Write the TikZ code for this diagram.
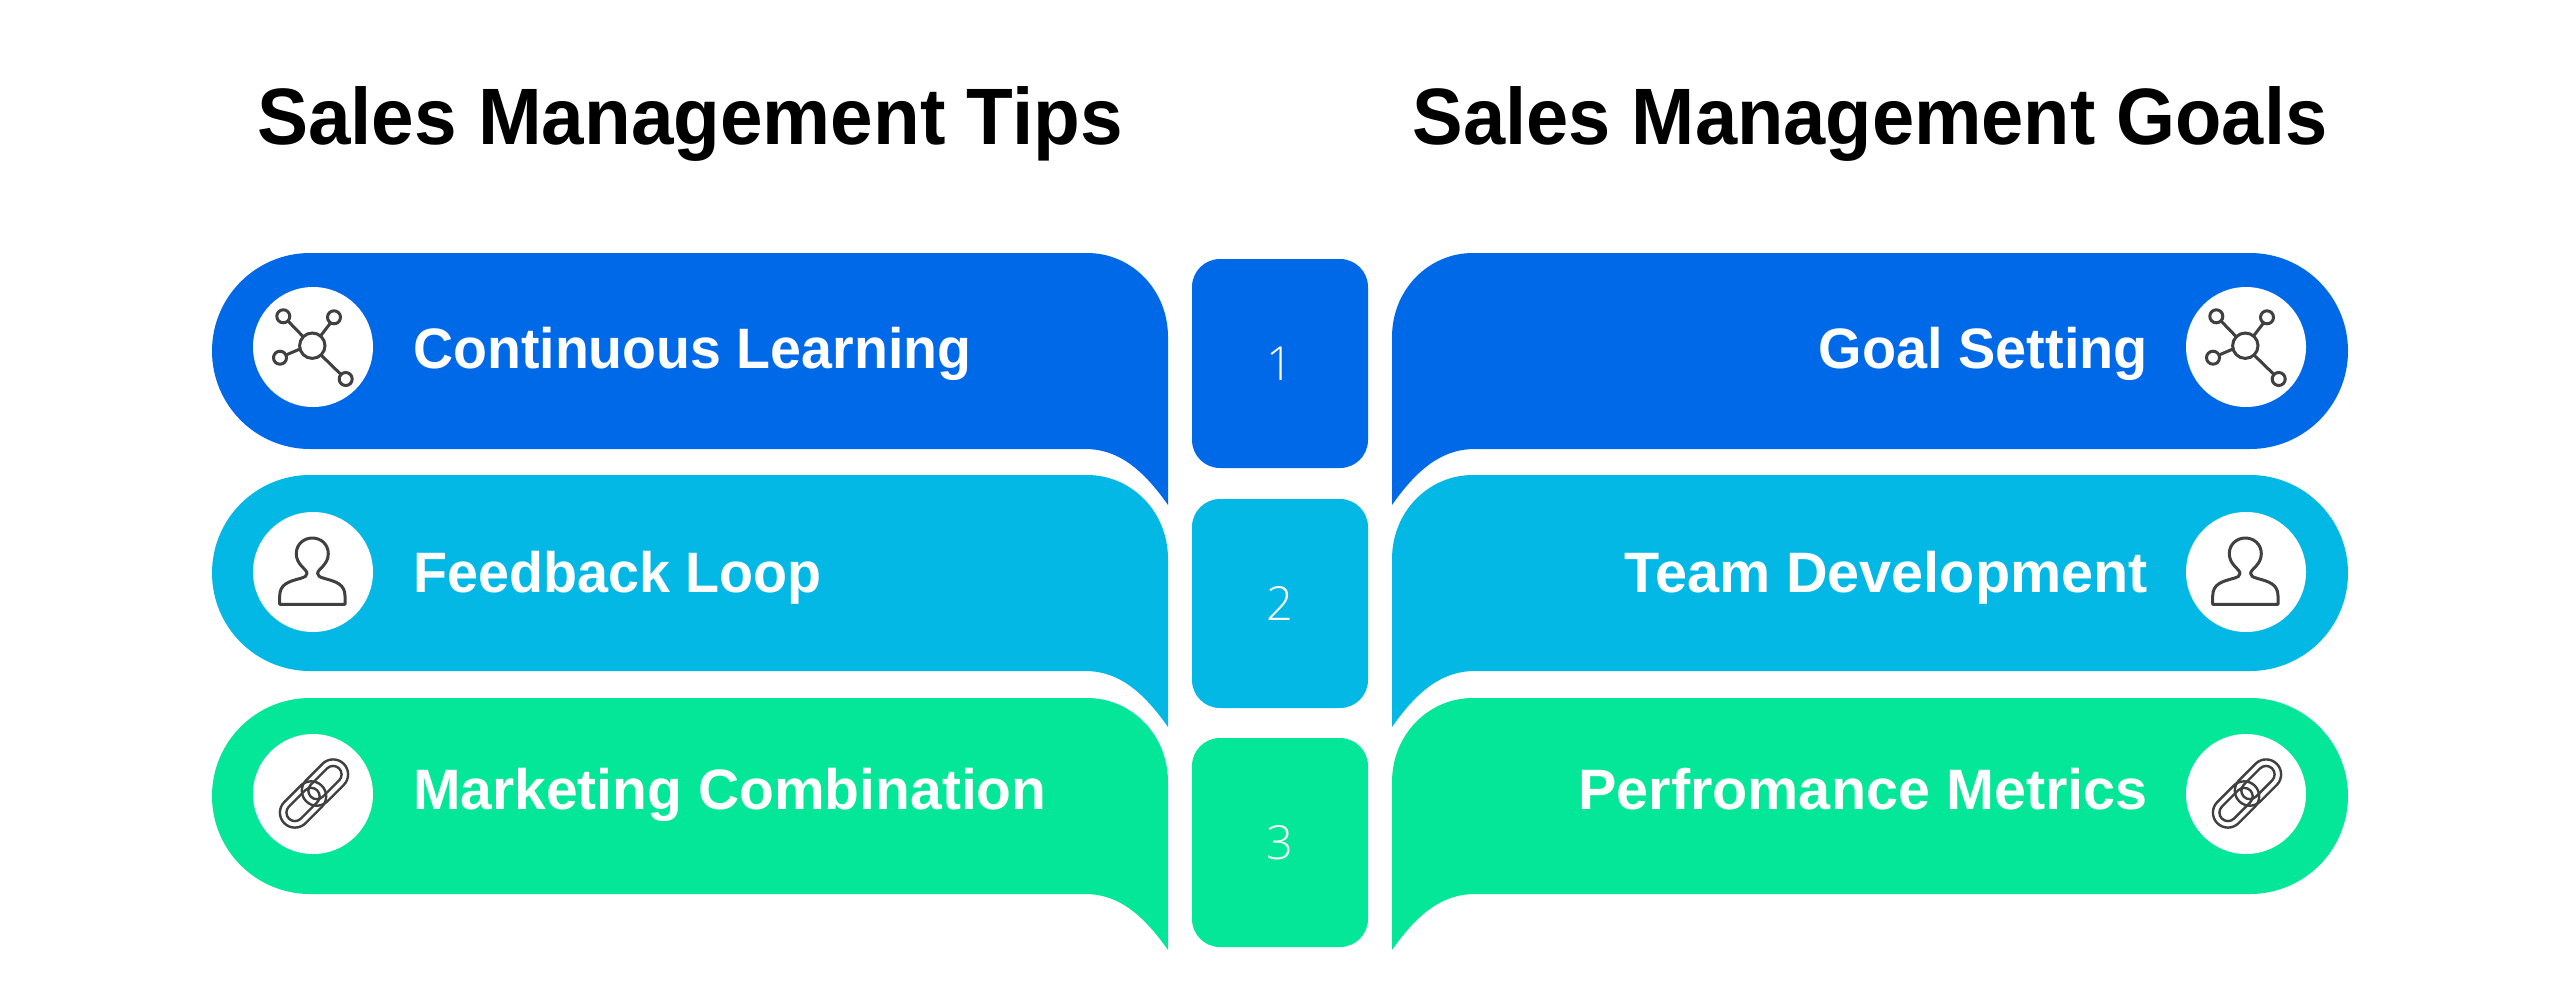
\documentclass[tikz,border=0pt]{standalone}
\usepackage{fontspec}
\setmainfont{Liberation Sans}
\newfontfamily\numfont{Open Sans Light}
\definecolor{cblue}{HTML}{0069E8}
\definecolor{ccyan}{HTML}{04B8E6}
\definecolor{cgreen}{HTML}{04E698}
\definecolor{icon}{HTML}{404040}
\tikzset{
  title/.style={anchor=base,font=\fontsize{80}{90}\selectfont\bfseries,text=black,inner sep=0pt},
  lab/.style={font=\fontsize{57}{60}\selectfont\bfseries,text=white,inner sep=0pt},
  numbox/.style={rounded corners=28pt,minimum width=176pt,minimum height=209pt,inner sep=0pt,text=white,font=\fontsize{47}{50}\selectfont\numfont},
  disc/.style={circle,fill=white,minimum size=120pt,inner sep=0pt},
  iconline/.style={draw=icon,line width=3pt,fill=none},
}
\newcommand{\bandshape}[2]{% colour, top
  \fill[#1] (1087,#2) .. controls (1132,#2) and (1168,#2+37) .. (1168,#2+84)
    -- (1168,#2+252) .. controls (1140,#2+212) and (1115,#2+196) .. (1085,#2+196)
    -- (310,#2+196) arc[start angle=90,end angle=270,radius=98pt,y radius=-98pt] -- cycle;
}
\newcommand{\iconnet}[1]{%
  \begin{scope}[shift={(#1)}]
  \draw[iconline] (-0.7,-1.3) circle[radius=12.7pt];
  \foreach \x/\y in {-29.7/-30.7,21/-29.7,-33/10.7,32.7/32}{
    \draw[iconline] (\x,\y) circle[radius=6.5pt];
  }
  \draw[iconline] (-25,-26) -- (-9.5,-10);
  \draw[iconline] (17.5,-24) -- (7.5,-11);
  \draw[iconline] (-27,8) -- (-13,2);
  \draw[iconline] (8.5,8.5) -- (28,27.5);
  \end{scope}}
\newcommand{\iconperson}[1]{%
  \begin{scope}[shift={(#1)}]
  \draw[iconline,line join=round] (-33.3,32.3) -- (-33.3,24)
    .. controls (-33.3,12) and (-24,9.5) .. (-13,6.5)
    .. controls (-8,5) and (-6,4) .. (-6,1.5)
    .. controls (-6,-3) and (-16.7,-7) .. (-16.7,-18.3)
    .. controls (-16.7,-28) and (-9,-34) .. (-0.7,-34)
    .. controls (7.6,-34) and (15.3,-28) .. (15.3,-18.3)
    .. controls (15.3,-7) and (4.6,-3) .. (4.6,1.5)
    .. controls (4.6,4) and (6.6,5) .. (11.6,6.5)
    .. controls (22.6,9.5) and (32,12) .. (32,24)
    -- (32,32.3) -- cycle;
  \end{scope}}
\newcommand{\iconchain}[1]{%
  \begin{scope}[shift={(#1)},xshift=1pt,yshift=0.5pt,rotate=45,yscale=-1]
  \foreach \a/\b in {-42/11,-11/42}{
    \draw[iconline,line width=2.4pt,rounded corners=15pt] (\a,-15) rectangle (\b,15);
    \draw[iconline,line width=2.4pt,rounded corners=8.5pt] (\a+6.5,-8.5) rectangle (\b-6.5,8.5);
  }
  \end{scope}}
\begin{document}
\begin{tikzpicture}[x=1pt,y=-1pt]
\useasboundingbox (0,0) rectangle (2560,994);
\fill[white] (0,0) rectangle (2560,994);
\node[title] (tl) at (690,144) {\scalebox{.956}[1]{Sales Management Tips}};
\node[title] (tr) at (1870,144) {\scalebox{.948}[1]{Sales Management Goals}};
\foreach \c/\t in {cblue/253,ccyan/475,cgreen/698}{
  \bandshape{\c}{\t}
  \begin{scope}[xshift=2560pt,xscale=-1]
    \bandshape{\c}{\t}
  \end{scope}
}
\node[numbox,fill=cblue] (n1) at (1280,363.5) {1};
\node[numbox,fill=ccyan] (n2) at (1280,603.5) {2};
\node[numbox,fill=cgreen] (n3) at (1280,842.5) {3};
\node[disc] (dl1) at (313,347) {};
\node[disc] (dl2) at (313,572) {};
\node[disc] (dl3) at (313,794) {};
\node[disc] (dr1) at (2246,347) {};
\node[disc] (dr2) at (2246,572) {};
\node[disc] (dr3) at (2246,794) {};
\iconnet{dl1}\iconnet{dr1}
\iconperson{dl2}\iconperson{dr2}
\iconchain{dl3}\iconchain{dr3}
\node[lab,anchor=base west] (a1) at (413,368) {\scalebox{.974}[1]{Continuous Learning}};
\node[lab,anchor=base west] (a2) at (413,592) {\scalebox{.977}[1]{Feedback Loop}};
\node[lab,anchor=base west] (a3) at (413,809) {Marketing Combination};
\node[lab,anchor=base east] (b1) at (2148,368) {\scalebox{.98}[1]{Goal Setting}};
\node[lab,anchor=base east] (b2) at (2148,592) {\scalebox{1.01}[1]{Team Development}};
\node[lab,anchor=base east] (b3) at (2148,809) {\scalebox{1.01}[1]{Perfromance Metrics}};
\end{tikzpicture}
\end{document}
